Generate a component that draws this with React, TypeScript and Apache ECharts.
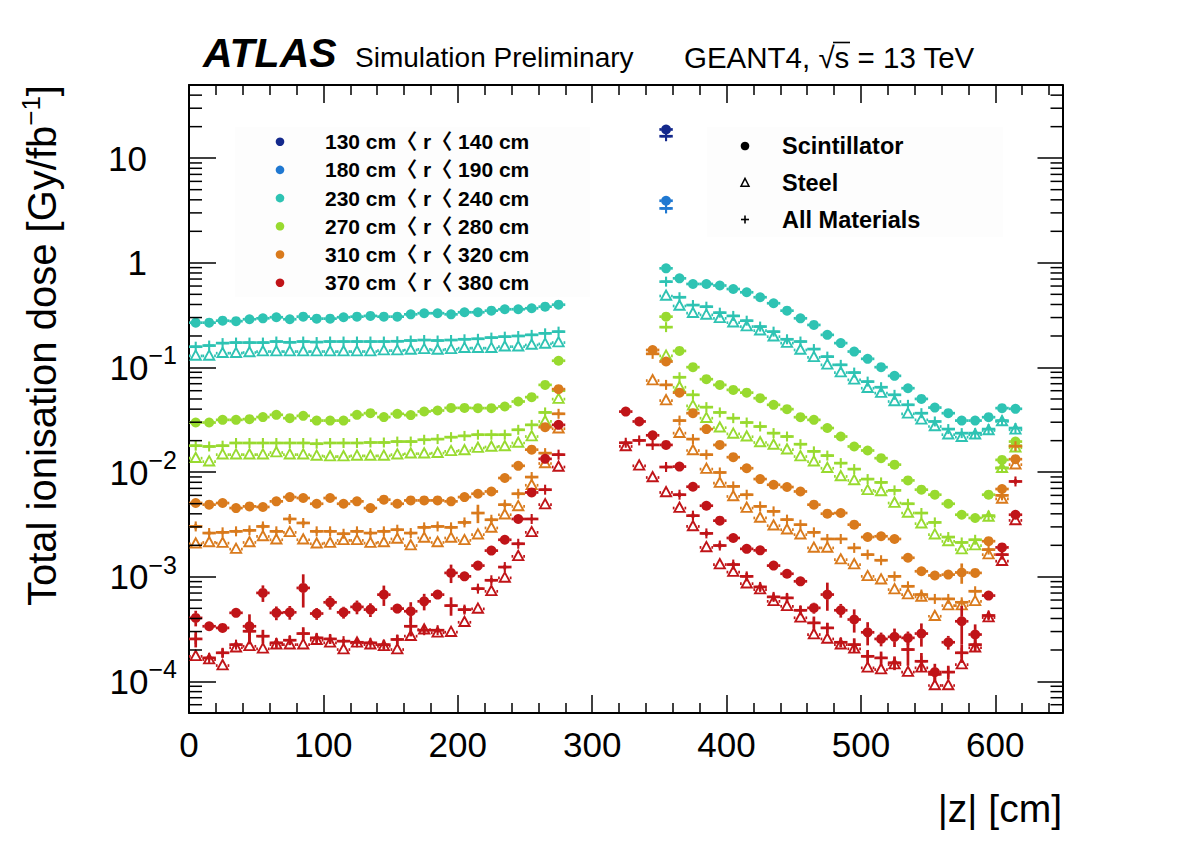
import React, { useEffect, useRef } from 'react';
import * as echarts from 'echarts';

const FONT = '"Liberation Sans", Arial, Helvetica, "Noto Sans CJK JP", sans-serif';

const C_NAVY = '#14298c';
const C_BLUE = '#1f78d1';
const C_TEAL = '#2ec3b3';
const C_GREEN = '#98da2f';
const C_ORANGE = '#d97a1c';
const C_RED = '#c01418';

const rangeLabels = [
  '130 cm〈 r〈 140 cm',
  '180 cm〈 r〈 190 cm',
  '230 cm〈 r〈 240 cm',
  '270 cm〈 r〈 280 cm',
  '310 cm〈 r〈 320 cm',
  '370 cm〈 r〈 380 cm',
];
const rangeColors = [C_NAVY, C_BLUE, C_TEAL, C_GREEN, C_ORANGE, C_RED];
const materialLabels = ['Scintillator', 'Steel', 'All Materials'];
const xTickValues = [0, 100, 200, 300, 400, 500, 600];
const yTickExponents = [-4, -3, -2, -1, 0, 1];

// |z| bin centres [cm]
const zLeft = [5, 15, 25, 35, 45, 55, 65, 75, 85, 95, 105, 115, 125, 135, 145, 155, 165, 175, 185, 195, 205, 215, 225, 235, 245, 255, 265, 275];
const zRight = [325, 335, 345, 355, 365, 375, 385, 395, 405, 415, 425, 435, 445, 455, 465, 475, 485, 495, 505, 515, 525, 535, 545, 555, 565, 575, 585, 595, 605, 615];
const zRight345 = [345, 355, 365, 375, 385, 395, 405, 415, 425, 435, 445, 455, 465, 475, 485, 495, 505, 515, 525, 535, 545, 555, 565, 575, 585, 595, 605, 615];
const zRight355 = [355, 365, 375, 385, 395, 405, 415, 425, 435, 445, 455, 465, 475, 485, 495, 505, 515, 525, 535, 545, 555, 565, 575, 585, 595, 605, 615];
const zSingle = [355];

// 130-140 cm and 180-190 cm
const navySc = [18.8];
const navyAll = [16.2];
const blueSc = [3.92];
const blueAll = [3.31];

// 230-240 cm
const tealScLeft = [0.268, 0.268, 0.280, 0.277, 0.289, 0.295, 0.302, 0.289, 0.306, 0.293, 0.293, 0.302, 0.306, 0.311, 0.306, 0.306, 0.322, 0.330, 0.330, 0.322, 0.337, 0.337, 0.349, 0.360, 0.360, 0.368, 0.381, 0.398];
const tealAllLeft = [0.158, 0.162, 0.171, 0.173, 0.173, 0.173, 0.177, 0.174, 0.177, 0.175, 0.177, 0.177, 0.177, 0.177, 0.177, 0.178, 0.181, 0.183, 0.181, 0.183, 0.186, 0.188, 0.193, 0.197, 0.200, 0.205, 0.212, 0.220];
const tealStLeft = [0.129, 0.129, 0.137, 0.137, 0.139, 0.142, 0.142, 0.142, 0.142, 0.142, 0.142, 0.142, 0.142, 0.142, 0.145, 0.145, 0.147, 0.149, 0.147, 0.149, 0.153, 0.153, 0.153, 0.158, 0.158, 0.164, 0.168, 0.173];
const tealScRight = [0.886, 0.711, 0.628, 0.628, 0.607, 0.562, 0.523, 0.469, 0.411, 0.349, 0.295, 0.255, 0.205, 0.171, 0.142, 0.121, 0.1007, 0.0832, 0.0634, 0.0501, 0.0414, 0.0366, 0.0311, 0.0311, 0.0335, 0.0409, 0.0403];
const tealAllRight = [0.661, 0.469, 0.395, 0.381, 0.334, 0.311, 0.280, 0.246, 0.220, 0.186, 0.177, 0.150, 0.127, 0.106, 0.0894, 0.0733, 0.0648, 0.0548, 0.0440, 0.0366, 0.0305, 0.0258, 0.0236, 0.0236, 0.0258, 0.0311, 0.0264];
const tealStRight = [0.482, 0.387, 0.330, 0.318, 0.295, 0.268, 0.246, 0.225, 0.197, 0.171, 0.147, 0.125, 0.106, 0.0894, 0.0762, 0.0634, 0.0569, 0.0473, 0.0361, 0.0316, 0.0273, 0.0228, 0.0216, 0.0228, 0.0250, 0.0305, 0.0254];

// 270-280 cm
const greenScLeft = [0.0298, 0.0298, 0.0316, 0.0316, 0.0321, 0.0336, 0.0353, 0.0328, 0.0345, 0.0311, 0.0311, 0.0311, 0.0353, 0.0366, 0.0336, 0.0361, 0.0351, 0.0380, 0.0388, 0.0411, 0.0411, 0.0409, 0.0409, 0.0424, 0.0473, 0.0521, 0.0682, 0.116];
const greenAllLeft = [0.0179, 0.0176, 0.0179, 0.0190, 0.0190, 0.0190, 0.0190, 0.0190, 0.0190, 0.0187, 0.0190, 0.0190, 0.0190, 0.0192, 0.0192, 0.0196, 0.0196, 0.0204, 0.0207, 0.0216, 0.0222, 0.0228, 0.0228, 0.0228, 0.0254, 0.0283, 0.0372, 0.060];
const greenStLeft = [0.0136, 0.0126, 0.0147, 0.0147, 0.0147, 0.0147, 0.0154, 0.0147, 0.0147, 0.0143, 0.0141, 0.0141, 0.0143, 0.0143, 0.0143, 0.0147, 0.0150, 0.0150, 0.0152, 0.0158, 0.0161, 0.0170, 0.0174, 0.0176, 0.0190, 0.0219, 0.0305, 0.0499];
const greenScRight = [0.306, 0.144, 0.1007, 0.0773, 0.0682, 0.0611, 0.0575, 0.0509, 0.0440, 0.0400, 0.0335, 0.0316, 0.0264, 0.0219, 0.0176, 0.0161, 0.0136, 0.0118, 0.00834, 0.00680, 0.00609, 0.00499, 0.00392, 0.00365, 0.00609, 0.0131, 0.0196];
const greenAllRight = [0.243, 0.0807, 0.0548, 0.0418, 0.0372, 0.0328, 0.0298, 0.0273, 0.0236, 0.0219, 0.0185, 0.0158, 0.0144, 0.0122, 0.0107, 0.00859, 0.00798, 0.00670, 0.00499, 0.00407, 0.00331, 0.00240, 0.00213, 0.00226, 0.00384, 0.0110, 0.0179];
const greenStRight = [0.129, 0.0648, 0.0430, 0.0328, 0.0266, 0.0232, 0.0218, 0.0192, 0.0182, 0.0164, 0.0141, 0.0126, 0.0109, 0.00910, 0.00834, 0.00670, 0.00654, 0.00507, 0.00407, 0.00322, 0.00253, 0.00218, 0.00182, 0.00199, 0.00373, 0.0109, 0.0171];

// 310-320 cm
const orangeScLeft = [0.00507, 0.00489, 0.00507, 0.00454, 0.00471, 0.00465, 0.00526, 0.00578, 0.00566, 0.00499, 0.00566, 0.00499, 0.00526, 0.00454, 0.00546, 0.00499, 0.00537, 0.00537, 0.00537, 0.00526, 0.00578, 0.00622, 0.00654, 0.00879, 0.0115, 0.0164, 0.0269, 0.0621];
const orangeAllLeft = [0.00303, 0.00262, 0.00266, 0.00272, 0.00278, 0.00303, 0.00272, 0.00357, 0.00327, 0.00272, 0.00272, 0.00258, 0.00272, 0.00262, 0.00272, 0.00282, 0.00262, 0.00297, 0.00303, 0.00297, 0.00331, 0.00407, 0.00351, 0.00489, 0.00622, 0.00898, 0.0152, 0.0361];
const orangeAllLeftErr = [0.06, 0.04, 0.04, 0.04, 0.04, 0.06, 0.04, 0.07, 0.05, 0.04, 0.04, 0.04, 0.04, 0.04, 0.04, 0.04, 0.04, 0.05, 0.04, 0.04, 0.05, 0.2, 0.05, 0.05, 0.04, 0.03, 0.03, 0.03];
const orangeStLeft = [0.00207, 0.00213, 0.00210, 0.00184, 0.00213, 0.00243, 0.00226, 0.00266, 0.00226, 0.00207, 0.00210, 0.00223, 0.00223, 0.00210, 0.00213, 0.00230, 0.00199, 0.00235, 0.00213, 0.00235, 0.00223, 0.00253, 0.00293, 0.00392, 0.00471, 0.0075, 0.0121, 0.026];
const orangeScRight = [0.147, 0.114, 0.0575, 0.0366, 0.0258, 0.0182, 0.0139, 0.0109, 0.00859, 0.00758, 0.00721, 0.00654, 0.00489, 0.00401, 0.00407, 0.00315, 0.00240, 0.00244, 0.00230, 0.00152, 0.00113, 0.00103, 0.00105, 0.00110, 0.00109, 0.00219, 0.00690, 0.0133];
const orangeScRightErr = [0.03, 0.03, 0.03, 0.03, 0.03, 0.03, 0.03, 0.03, 0.03, 0.03, 0.03, 0.03, 0.03, 0.04, 0.04, 0.04, 0.05, 0.05, 0.05, 0.06, 0.06, 0.06, 0.06, 0.22, 0.06, 0.05, 0.04, 0.04];
const orangeAllRight = [0.135, 0.0682, 0.0311, 0.0207, 0.0147, 0.00993, 0.00731, 0.00609, 0.00471, 0.00422, 0.00352, 0.00315, 0.00266, 0.00230, 0.00230, 0.00189, 0.00163, 0.00144, 0.00101, 0.000812, 0.000677, 0.000615, 0.000615, 0.000571, 0.000728, 0.00182, 0.0060, 0.0177];
const orangeStRight = [0.0750, 0.0483, 0.0236, 0.0161, 0.0107, 0.00787, 0.00586, 0.00454, 0.00365, 0.00308, 0.00282, 0.00253, 0.00189, 0.00189, 0.00146, 0.00131, 0.00101, 0.000940, 0.000755, 0.000677, 0.000643, 0.000420, 0.000531, 0.000531, 0.000583, 0.00163, 0.00555, 0.0118];

// 370-380 cm
const redScLeft = [0.000405, 0.000337, 0.000325, 0.000453, 0.000337, 0.000702, 0.000453, 0.000458, 0.000783, 0.000446, 0.000571, 0.000458, 0.000516, 0.000486, 0.000676, 0.000497, 0.000469, 0.000583, 0.000676, 0.00109, 0.00101, 0.00128, 0.00178, 0.00226, 0.00357, 0.0064, 0.0134, 0.0283];
const redScLeftErr = [0.17, 0.08, 0.08, 0.08, 0.3, 0.18, 0.15, 0.15, 0.35, 0.13, 0.15, 0.13, 0.15, 0.15, 0.22, 0.1, 0.22, 0.18, 0.08, 0.2, 0.08, 0.1, 0.06, 0.05, 0.04, 0.03, 0.03, 0.03];
const redAllLeft = [0.000255, 0.000168, 0.000188, 0.000225, 0.000302, 0.000271, 0.000234, 0.000248, 0.000287, 0.000261, 0.000255, 0.000243, 0.000237, 0.000234, 0.000225, 0.000252, 0.000337, 0.000309, 0.000309, 0.000531, 0.000486, 0.000771, 0.000927, 0.00124, 0.00207, 0.00357, 0.0068, 0.0147];
const redAllLeftErr = [0.17, 0.05, 0.1, 0.05, 0.25, 0.15, 0.1, 0.1, 0.15, 0.1, 0.1, 0.05, 0.05, 0.05, 0.1, 0.1, 0.2, 0.08, 0.05, 0.2, 0.08, 0.05, 0.05, 0.05, 0.04, 0.03, 0.03, 0.03];
const redStLeft = [0.000174, 0.000162, 0.000142, 0.000210, 0.000217, 0.000205, 0.000225, 0.000225, 0.000225, 0.000248, 0.000234, 0.000202, 0.000234, 0.000225, 0.000217, 0.000202, 0.000271, 0.000313, 0.000292, 0.000296, 0.000368, 0.000494, 0.000727, 0.000977, 0.00157, 0.00266, 0.0049, 0.0112];
const redScRight = [0.0379, 0.0305, 0.0225, 0.0182, 0.0113, 0.00726, 0.00478, 0.00344, 0.00235, 0.00185, 0.00179, 0.00128, 0.00107, 0.000906, 0.000505, 0.000677, 0.000479, 0.000391, 0.000295, 0.000255, 0.000267, 0.000261, 0.000287, 0.000123, 0.000237, 0.000376, 0.000281, 0.000662, 0.00191, 0.00392];
const redScRightErr = [0.03, 0.03, 0.03, 0.03, 0.04, 0.04, 0.05, 0.05, 0.06, 0.06, 0.06, 0.08, 0.08, 0.08, 0.12, 0.3, 0.15, 0.25, 0.25, 0.15, 0.2, 0.15, 0.25, 0.2, 0.15, 0.4, 0.25, 0.08, 0.05, 0.05];
const redAllRight = [0.0191, 0.0201, 0.0182, 0.0112, 0.00609, 0.00384, 0.00260, 0.00199, 0.00131, 0.00101, 0.000801, 0.000643, 0.000629, 0.000479, 0.000363, 0.000325, 0.000237, 0.000225, 0.000174, 0.000168, 0.000151, 0.000202, 0.000156, 0.000117, 0.000123, 0.000188, 0.000225, 0.000427, 0.00163, 0.00815];
const redAllRightErr = [0.03, 0.03, 0.03, 0.04, 0.05, 0.05, 0.05, 0.06, 0.06, 0.08, 0.08, 0.08, 0.1, 0.1, 0.15, 0.12, 0.1, 0.15, 0.15, 0.15, 0.15, 0.3, 0.2, 0.15, 0.15, 0.2, 0.15, 0.08, 0.05, 0.05];
const redStRight = [0.0176, 0.0115, 0.00889, 0.00640, 0.00454, 0.00303, 0.00191, 0.00131, 0.00111, 0.000861, 0.000755, 0.000583, 0.000523, 0.000406, 0.000281, 0.000255, 0.000225, 0.000205, 0.000135, 0.000130, 0.000145, 0.000123, 0.000135, 0.0000916, 0.0000916, 0.000145, 0.000210, 0.000408, 0.00141, 0.00346];

// log-axis minor tick mantissas and decades
const minorMantissas = [2, 3, 4, 5, 6, 7, 8, 9];
const minorDecades = [-5, -4, -3, -2, -1, 0, 1];

type Marker = 'circle' | 'triangle' | 'plus';
type Part = [number[], number[], number[]?];

function pointSeries(name: string, color: string, marker: Marker, parts: Part[]) {
  const data: number[][] = [];
  parts.forEach(([xs, ys, es]) => {
    ys.forEach((v, i) => data.push([xs[i], v, es ? es[i] : 0]));
  });
  return {
    type: 'custom',
    name,
    xAxisIndex: 0,
    yAxisIndex: 0,
    silent: true,
    clip: true,
    dimensions: ['z', 'dose', 'err'],
    encode: { x: 0, y: 1 },
    data,
    renderItem: (_params: any, api: any) => {
      const z = api.value(0);
      const v = api.value(1);
      const e = api.value(2);
      const c = api.coord([z, v]);
      const l = api.coord([z - 5, v]);
      const r = api.coord([z + 5, v]);
      const gap = marker === 'plus' ? 0 : marker === 'triangle' ? 5 : 4.6;
      const bar = { stroke: color, lineWidth: 2.7 };
      const ch: any[] = [
        { type: 'line', shape: { x1: l[0], y1: c[1], x2: c[0] - gap, y2: c[1] }, style: bar },
        { type: 'line', shape: { x1: c[0] + gap, y1: c[1], x2: r[0], y2: c[1] }, style: bar },
      ];
      if (e > 0) {
        const up = api.coord([z, v * (1 + e)])[1];
        const dn = api.coord([z, v * (1 - e)])[1];
        if (c[1] - up > gap) ch.push({ type: 'line', shape: { x1: c[0], y1: up, x2: c[0], y2: c[1] - gap }, style: bar });
        if (dn - c[1] > gap) ch.push({ type: 'line', shape: { x1: c[0], y1: c[1] + gap, x2: c[0], y2: dn }, style: bar });
      }
      if (marker === 'circle') {
        ch.push({ type: 'circle', shape: { cx: c[0], cy: c[1], r: 5 }, style: { fill: color } });
      } else if (marker === 'triangle') {
        ch.push({
          type: 'polygon',
          shape: { points: [[c[0], c[1] - 5.5], [c[0] - 5.1, c[1] + 3.8], [c[0] + 5.1, c[1] + 3.8]] },
          style: { fill: 'none', stroke: color, lineWidth: 1.9 },
        });
      } else {
        const pen = { stroke: color, lineWidth: 2.1 };
        ch.push({ type: 'line', shape: { x1: c[0] - 5, y1: c[1], x2: c[0] + 5, y2: c[1] }, style: pen });
        ch.push({ type: 'line', shape: { x1: c[0], y1: c[1] - 5, x2: c[0], y2: c[1] + 5 }, style: pen });
      }
      return { type: 'group', children: ch };
    },
  };
}

function minorTickSeries() {
  const vals: number[][] = [];
  minorDecades.forEach((d) => {
    minorMantissas.forEach((m) => {
      const v = m * Math.pow(10, d);
      if (v > 5.01e-5 && v < 49.9) vals.push([0, v]);
    });
  });
  return {
    type: 'custom',
    silent: true,
    clip: false,
    xAxisIndex: 0,
    yAxisIndex: 0,
    encode: { x: 0, y: 1 },
    data: vals,
    z: 5,
    renderItem: (params: any, api: any) => {
      const cs = params.coordSys;
      const y = api.coord([0, api.value(1)])[1];
      const pen = { stroke: '#000', lineWidth: 1.5 };
      return {
        type: 'group',
        children: [
          { type: 'line', shape: { x1: cs.x, y1: y, x2: cs.x + 13, y2: y }, style: pen },
          { type: 'line', shape: { x1: cs.x + cs.width - 12, y1: y, x2: cs.x + cs.width, y2: y }, style: pen },
        ],
      };
    },
  };
}

function yLabel(value: number) {
  const n = Math.round(Math.log10(value));
  if (!yTickExponents.includes(n)) return '';
  if (n === 1) return '{p|10}';
  if (n === 0) return '{p|1}';
  return '{b|10}{s|' + (n < 0 ? '\u2212' : '') + Math.abs(n) + '}';
}

const axisLine = { show: true, onZero: false, lineStyle: { color: '#000', width: 2 } };
const tickStyle = { color: '#000', width: 1.5 };

function buildOption() {
  const legendG: any[] = [];
  legendG.push({ type: 'rect', shape: { x: 235, y: 127, width: 355, height: 170 }, style: { fill: '#fdfdfd' }, z: 0 });
  legendG.push({ type: 'rect', shape: { x: 707, y: 127, width: 296, height: 110 }, style: { fill: '#fdfdfd' }, z: 0 });
  rangeLabels.forEach((t, i) => {
    const y = 141.7 + i * 28.2;
    legendG.push({ type: 'circle', shape: { cx: 280, cy: y, r: 4.3 }, style: { fill: rangeColors[i] }, z: 10 });
    legendG.push({
      type: 'text', x: 325, y, z: 10,
      style: { text: t, fill: '#000', font: 'bold 21px ' + FONT, align: 'left', verticalAlign: 'middle' },
    });
  });
  const matY = [146, 183, 219.5];
  legendG.push({ type: 'circle', shape: { cx: 745, cy: matY[0], r: 4.3 }, style: { fill: '#000' }, z: 10 });
  legendG.push({
    type: 'polygon', z: 10,
    shape: { points: [[745, matY[1] - 4.6], [741, matY[1] + 3.2], [749, matY[1] + 3.2]] },
    style: { fill: 'none', stroke: '#000', lineWidth: 1.5 },
  });
  legendG.push({ type: 'line', z: 10, shape: { x1: 741, y1: matY[2], x2: 749, y2: matY[2] }, style: { stroke: '#000', lineWidth: 1.6 } });
  legendG.push({ type: 'line', z: 10, shape: { x1: 745, y1: matY[2] - 4, x2: 745, y2: matY[2] + 4 }, style: { stroke: '#000', lineWidth: 1.6 } });
  materialLabels.forEach((t, i) => {
    legendG.push({
      type: 'text', x: 782, y: matY[i], z: 10,
      style: { text: t, fill: '#000', font: 'bold 23.5px ' + FONT, align: 'left', verticalAlign: 'middle' },
    });
  });

  const headerG: any[] = [
    { type: 'text', x: 203, y: 53, style: { text: 'ATLAS', fill: '#000', font: 'italic bold 41px ' + FONT, align: 'left', verticalAlign: 'middle' } },
    { type: 'text', x: 355, y: 57, style: { text: 'Simulation Preliminary', fill: '#000', font: '28px ' + FONT, align: 'left', verticalAlign: 'middle' } },
    { type: 'text', x: 684, y: 57, style: { text: 'GEANT4, \u221as = 13 TeV', fill: '#000', font: '29.5px ' + FONT, align: 'left', verticalAlign: 'middle' } },
    { type: 'line', shape: { x1: 833, y1: 42.5, x2: 850, y2: 42.5 }, style: { stroke: '#000', lineWidth: 1.6 } },
    {
      type: 'text', x: 42, y: 85, rotation: Math.PI / 2,
      style: {
        text: '{a|Total ionisation dose [Gy/fb}{s|\u22121}{a|]}',
        rich: {
          a: { fontSize: 40, fontFamily: FONT, fill: '#000' },
          s: { fontSize: 26, fontFamily: FONT, fill: '#000', padding: [0, 0, 22, 0] },
        },
        align: 'right', verticalAlign: 'middle',
      },
    },
    { type: 'text', x: 1062, y: 808, style: { text: '|z| [cm]', fill: '#000', font: '39px ' + FONT, align: 'right', verticalAlign: 'middle' } },
  ];

  const series: any[] = [
    minorTickSeries(),
    pointSeries('130-140 Scintillator', C_NAVY, 'circle', [[zSingle, navySc, [0.05]]]),
    pointSeries('130-140 All', C_NAVY, 'plus', [[zSingle, navyAll]]),
    pointSeries('180-190 Scintillator', C_BLUE, 'circle', [[zSingle, blueSc, [0.05]]]),
    pointSeries('180-190 All', C_BLUE, 'plus', [[zSingle, blueAll]]),
    pointSeries('230-240 Steel', C_TEAL, 'triangle', [[zLeft, tealStLeft], [zRight355, tealStRight]]),
    pointSeries('230-240 All', C_TEAL, 'plus', [[zLeft, tealAllLeft], [zRight355, tealAllRight]]),
    pointSeries('230-240 Scintillator', C_TEAL, 'circle', [[zLeft, tealScLeft], [zRight355, tealScRight]]),
    pointSeries('270-280 Steel', C_GREEN, 'triangle', [[zLeft, greenStLeft], [zRight355, greenStRight]]),
    pointSeries('270-280 All', C_GREEN, 'plus', [[zLeft, greenAllLeft], [zRight355, greenAllRight]]),
    pointSeries('270-280 Scintillator', C_GREEN, 'circle', [[zLeft, greenScLeft], [zRight355, greenScRight]]),
    pointSeries('310-320 Steel', C_ORANGE, 'triangle', [[zLeft, orangeStLeft], [zRight345, orangeStRight]]),
    pointSeries('310-320 All', C_ORANGE, 'plus', [[zLeft, orangeAllLeft, orangeAllLeftErr], [zRight345, orangeAllRight]]),
    pointSeries('310-320 Scintillator', C_ORANGE, 'circle', [[zLeft, orangeScLeft], [zRight345, orangeScRight, orangeScRightErr]]),
    pointSeries('370-380 Steel', C_RED, 'triangle', [[zLeft, redStLeft], [zRight, redStRight]]),
    pointSeries('370-380 All', C_RED, 'plus', [[zLeft, redAllLeft, redAllLeftErr], [zRight, redAllRight, redAllRightErr]]),
    pointSeries('370-380 Scintillator', C_RED, 'circle', [[zLeft, redScLeft, redScLeftErr], [zRight, redScRight, redScRightErr]]),
  ];

  return {
    animation: false,
    backgroundColor: '#fff',
    grid: { left: 189, top: 85, width: 873.5, height: 628, containLabel: false },
    xAxis: [
      {
        type: 'value', position: 'bottom', min: 0, max: 650, interval: 100,
        axisLine, splitLine: { show: false },
        axisTick: { show: true, inside: true, length: 18, lineStyle: tickStyle },
        minorTick: { show: true, splitNumber: 5, length: 10, lineStyle: tickStyle },
        axisLabel: {
          show: true, color: '#000', fontSize: 35, fontFamily: FONT, margin: 14, showMaxLabel: false,
          formatter: (v: number) => (xTickValues.includes(Math.round(v)) ? String(Math.round(v)) : ''),
        },
      },
      {
        type: 'value', position: 'top', min: 0, max: 650, interval: 100,
        axisLine, splitLine: { show: false },
        axisTick: { show: true, inside: true, length: 18, lineStyle: tickStyle },
        minorTick: { show: true, splitNumber: 5, length: 10, lineStyle: tickStyle },
        axisLabel: { show: false },
      },
    ],
    yAxis: [
      {
        type: 'log', logBase: 10, position: 'left', min: 5e-5, max: 50,
        axisLine, splitLine: { show: false },
        axisTick: { show: true, inside: true, length: 27, lineStyle: tickStyle },
        axisLabel: {
          show: true, interval: 0, margin: 12, showMinLabel: false, showMaxLabel: false,
          formatter: yLabel,
          rich: {
            p: { fontSize: 35, fontFamily: FONT, color: '#000', padding: [0, 30, 0, 0] },
            b: { fontSize: 35, fontFamily: FONT, color: '#000' },
            s: { fontSize: 25, fontFamily: FONT, color: '#000', padding: [0, 0, 24, 0] },
          },
        },
      },
      {
        type: 'log', logBase: 10, position: 'right', min: 5e-5, max: 50,
        axisLine, splitLine: { show: false },
        axisTick: { show: true, inside: true, length: 25, lineStyle: tickStyle },
        axisLabel: { show: false },
      },
    ],
    graphic: { elements: [...legendG, ...headerG] },
    series,
  };
}

export default function App() {
  const ref = useRef<HTMLDivElement>(null);
  useEffect(() => {
    if (!ref.current) return;
    const chart = echarts.init(ref.current, null, { renderer: 'svg' });
    chart.setOption(buildOption() as any);
    return () => chart.dispose();
  }, []);
  return (
    <div
      ref={ref}
      style={{ position: 'absolute', left: 0, top: 0, width: 1182, height: 850, background: '#fff' }}
    />
  );
}
